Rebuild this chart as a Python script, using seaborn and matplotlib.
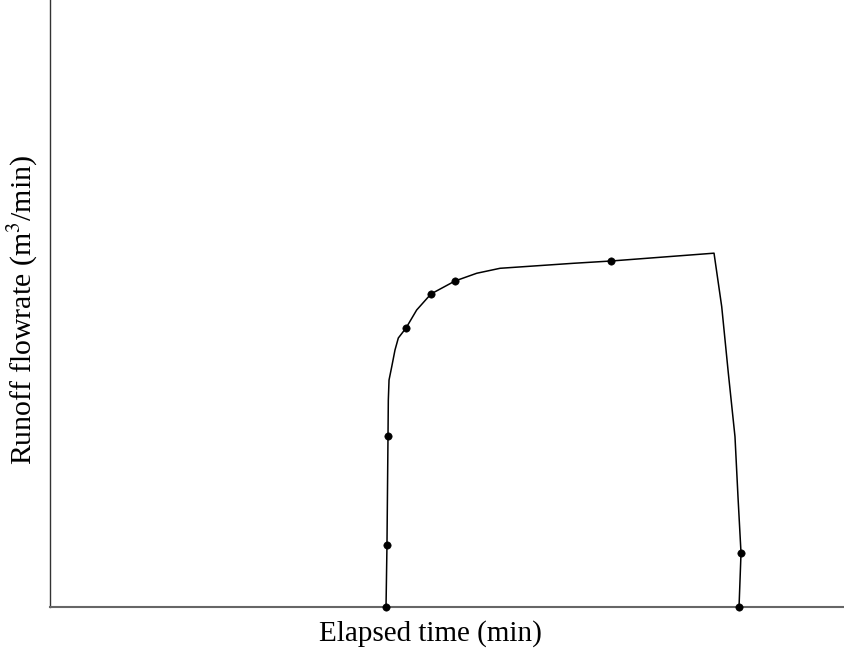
import matplotlib
matplotlib.use("Agg")
import matplotlib.pyplot as plt
import seaborn as sns
import pandas as pd

# Hydrograph shape, arbitrary units (axis has no ticks)
curve_time = [42.32, 42.44, 42.57, 42.61, 42.70, 43.04, 43.45, 43.87, 44.84, 46.18,
              47.98, 51.01, 53.74, 56.68, 65.87, 70.65, 83.63, 84.60, 85.43, 86.27,
              86.65, 87.03, 86.78]
curve_flow = [0.0, 10.21, 28.17, 34.10, 37.40, 39.59, 42.34, 44.32, 45.96, 48.93,
              51.57, 53.71, 54.98, 55.80, 56.62, 57.00, 58.29, 49.47, 38.55, 28.06,
              18.12, 8.90, 0.0]

point_time = [42.32, 42.44, 42.57, 44.84, 47.98, 51.01, 70.65, 87.03, 86.78]
point_flow = [0.0, 10.21, 28.17, 45.96, 51.57, 53.71, 57.00, 8.90, 0.0]

sns.set_theme(style="white")
plt.rcParams["font.family"] = ["Liberation Serif", "DejaVu Serif"]
plt.rcParams["mathtext.fontset"] = "stix"

curve = pd.DataFrame({"t": curve_time, "q": curve_flow})
pts = pd.DataFrame({"t": point_time, "q": point_flow})

fig = plt.figure(figsize=(8.44, 6.49), dpi=100)
ax = fig.add_axes([50 / 844, 42 / 649, 794 / 844, 607 / 649])

sns.lineplot(data=curve, x="t", y="q", sort=False, color="black", lw=1.1, ax=ax)
sns.scatterplot(data=pts, x="t", y="q", color="black", s=28, edgecolor="black",
                zorder=3, clip_on=False, ax=ax)

ax.set_xlim(0, 100)
ax.set_ylim(0, 100)
ax.set_xticks([])
ax.set_yticks([])
for side in ["top", "right"]:
    ax.spines[side].set_visible(False)
ax.spines["left"].set_color("#333333")
ax.spines["left"].set_linewidth(1.0)
ax.spines["bottom"].set_color("#666666")
ax.spines["bottom"].set_linewidth(1.5)

ax.set_xlabel("Elapsed time (min)", fontsize=21, color="black")
ax.set_ylabel(r"Runoff flowrate (m$^3$/min)", fontsize=21.5, color="black")
ax.xaxis.set_label_coords(0.479, -0.022)
ax.xaxis.label.set_va("top")
ax.yaxis.set_label_coords(-0.0126, 0.49)

fig.savefig("out.png", dpi=100)
